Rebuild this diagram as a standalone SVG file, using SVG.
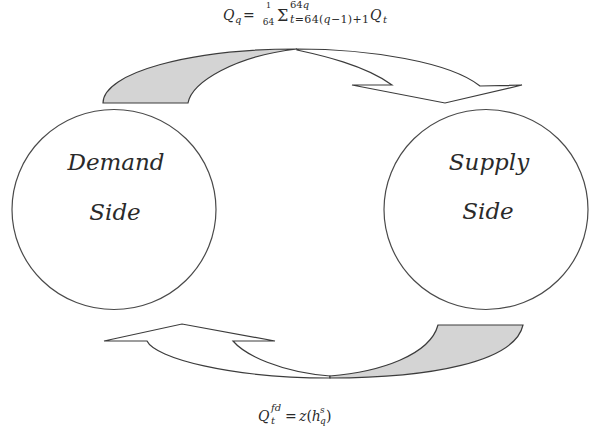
<svg xmlns="http://www.w3.org/2000/svg" width="589" height="438" viewBox="0 0 589 438">
<style>
.node{fill:#fff;stroke:#4a4a4a;stroke-width:1.2}
.lbl{font-family:"DejaVu Serif","Liberation Serif",serif;font-style:italic;font-size:23px;fill:#2a2a2a;text-anchor:middle}
.arw{stroke:#3c3c3c;stroke-width:1.2;stroke-linejoin:miter}
.white{fill:#fff}
.grey{fill:#d4d4d4}
.m{font-family:"DejaVu Serif","Liberation Serif",serif;fill:#2a2a2a}
.i{font-style:italic}
</style>
<rect width="589" height="438" fill="#fff"/>
<g id="demand-side">
<ellipse class="node" cx="114" cy="209.5" rx="102" ry="100"/>
<text class="lbl" x="116" y="170">Demand</text>
<text class="lbl" x="115" y="220">Side</text>
</g>
<g id="supply-side">
<ellipse class="node" cx="486" cy="209.5" rx="102" ry="100"/>
<text class="lbl" x="489" y="170">Supply</text>
<text class="lbl" x="488" y="219">Side</text>
</g>
<g id="connectors">
<g id="top-arrow">
<path class="arw grey" d="M103,103 C103,73 189,49 297,49 C235,56 192,82 188,103 Z"/>
<path class="arw white" d="M297,49 C370,49 450,62 480,86 L522,85 L445,103 L352,85 L392,85 C365,65 320,55 297,50 Z"/>
</g>
<g id="bottom-arrow">
<path class="arw white" d="M147,341 L104,341 L182,324 L275,341 L233,341 C245,355 280,372 330,376 L330,378 C230,378 155,358 147,341 Z"/>
<path class="arw grey" d="M438,325 L523,325 C515,362 430,378 330,378 L330,376 C380,372 430,355 438,325 Z"/>
</g>
</g>
<g id="formula-top" class="m">
<text class="i" x="223" y="20" font-size="14">Q</text>
<text class="i" x="235" y="23" font-size="10">q</text>
<text x="243" y="20" font-size="14">=</text>
<text x="268.5" y="8" font-size="8" text-anchor="middle">1</text>
<text x="268.5" y="24.5" font-size="9" text-anchor="middle">64</text>
<text x="277" y="20.5" font-size="16">Σ</text>
<text x="290" y="7.5" font-size="10">64<tspan class="i">q</tspan></text>
<text x="290" y="23" font-size="11" textLength="79" lengthAdjust="spacing"><tspan class="i">t</tspan>=64(<tspan class="i">q</tspan>−1)+1</text>
<text class="i" x="370" y="20" font-size="14">Q</text>
<text class="i" x="383" y="23" font-size="10">t</text>
</g>
<g id="formula-bottom" class="m">
<text class="i" x="258" y="421" font-size="14">Q</text>
<text class="i" x="271" y="411" font-size="10">fd</text>
<text class="i" x="271" y="424" font-size="10">t</text>
<text x="285" y="421" font-size="14">=</text>
<text x="299" y="421" font-size="14"><tspan class="i">z</tspan>(<tspan class="i">h</tspan></text>
<text class="i" x="320" y="413" font-size="9">s</text>
<text class="i" x="320" y="424" font-size="9">q</text>
<text x="326" y="421" font-size="14">)</text>
</g>
</svg>
